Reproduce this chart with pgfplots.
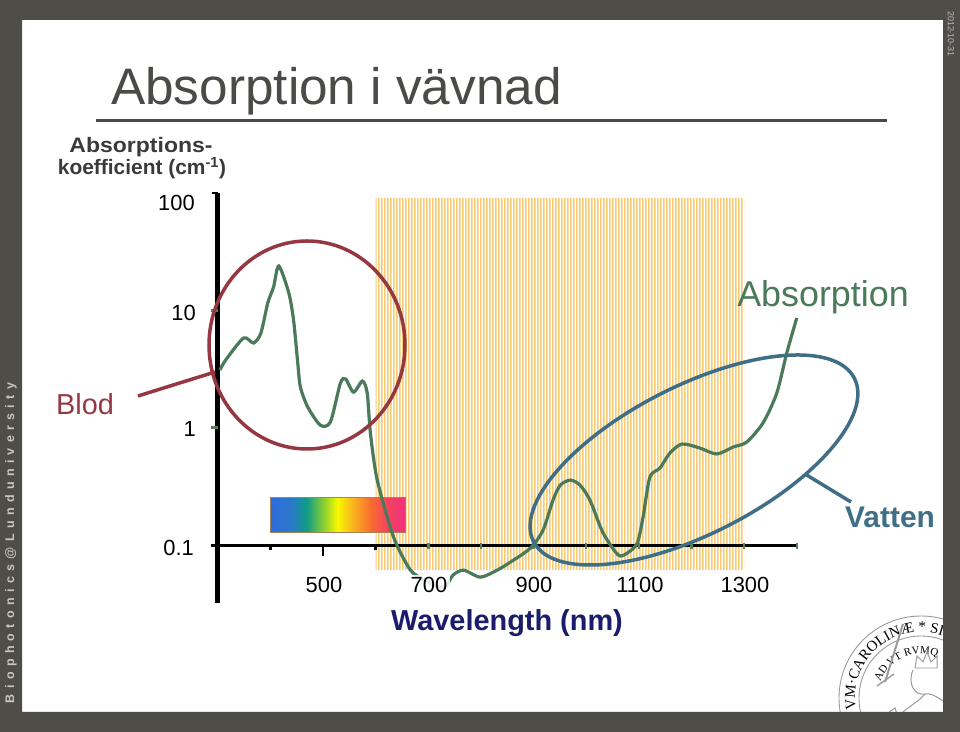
\documentclass[border=0pt]{standalone}
\usepackage{fontspec}
\setmainfont{Liberation Sans}
\newfontfamily\sealfont{Liberation Serif}
\newfontfamily\spaced[LetterSpace=43]{Liberation Sans}
\usepackage{pgfplots}
\pgfplotsset{compat=1.18}
\usetikzlibrary{patterns,decorations.text}

\definecolor{framecol}{HTML}{4E4D48}
\definecolor{titlegray}{HTML}{4A4A46}
\definecolor{curvecol}{HTML}{4B7A5B}
\definecolor{blodred}{HTML}{963842}
\definecolor{vatten}{HTML}{3F6E86}
\definecolor{stripe}{HTML}{F6CB74}
\definecolor{navy}{HTML}{1C1C6C}
\definecolor{ylab}{HTML}{3A3A3A}
\definecolor{tickgreen}{HTML}{5E7E62}
\definecolor{sidetext}{HTML}{CBC7BB}
\definecolor{sealgray}{HTML}{9A9A9A}
\definecolor{sp0}{HTML}{2F6CDB}
\definecolor{sp1}{HTML}{2A78CC}
\definecolor{sp2}{HTML}{0E9C86}
\definecolor{sp3}{HTML}{8CD030}
\definecolor{sp4}{HTML}{F8F800}
\definecolor{sp5}{HTML}{F8B020}
\definecolor{sp6}{HTML}{F86A30}
\definecolor{sp7}{HTML}{F44062}
\definecolor{sp8}{HTML}{F0307E}
\pgfdeclarehorizontalshading{spectrum}{100bp}{color(0bp)=(sp0); color(25bp)=(sp0); color(32.5bp)=(sp1); color(38.5bp)=(sp2); color(45bp)=(sp3); color(50bp)=(sp4); color(56bp)=(sp5); color(62.5bp)=(sp6); color(69bp)=(sp7); color(75bp)=(sp8); color(100bp)=(sp8)}
\pgfdeclarepatternformonly{vstripes}{\pgfpointorigin}{\pgfpoint{3.45bp}{600bp}}{\pgfpoint{3.45bp}{600bp}}{\pgfpathrectangle{\pgfpointorigin}{\pgfpoint{1.8bp}{600bp}}\pgfusepath{fill}}

\pgfplotstableread{
lambda  mua
304 3.10
315 3.77
349 5.81
368 5.27
382 6.41
395 11.55
406 15.8
416 23.9
435 14.05
444 8.27
452 3.56
457 2.22
471 1.50
495 1.05
514 1.12
533 2.40
543 2.60
558 2.01
575 2.50
584 1.97
590 0.90
603 0.358
634 0.117
666 0.0612
694 0.0503
722 0.0438
735 0.0456
747 0.0555
767 0.0612
799 0.0533
831 0.0612
856 0.0716
894 0.0942
918 0.134
937 0.242
951 0.325
970 0.358
988 0.325
1007 0.242
1032 0.127
1061 0.0822
1078 0.0855
1097 0.104
1108 0.173
1121 0.380
1140 0.453
1159 0.608
1182 0.726
1216 0.671
1248 0.597
1279 0.684
1305 0.755
1336 1.10
1362 1.97
1381 4.33
1400 8.61
}\absdata

\begin{document}
\begin{tikzpicture}
\useasboundingbox (0,0) rectangle (960bp,732bp);
% ---------- background, seal, frame ----------
\fill[white] (0,0) rectangle (960bp,732bp);
\begin{scope}
\clip (22bp,20bp) rectangle (943bp,712bp);
\begin{scope}[shift={(921bp,34bp)}, x=1bp, y=1bp, sealgray]
  \draw[line width=0.9] (0,0) circle[radius=82];
  \draw[line width=0.9] (0,0) circle[radius=62];
  \path[decorate, decoration={text along path, text align=left,
      text={|\sealfont\fontsize{15}{15}\selectfont|VM·CAROLINÆ * SIG}}]
      (190:66) arc[start angle=190, end angle=55, radius=66];
  \path[decorate, decoration={text along path, text align=left,
      text={|\sealfont\fontsize{11}{11}\selectfont|AD VT RVMQ}}]
      (158:44) arc[start angle=158, end angle=55, radius=44];
  % sword
  \draw[line width=2] (-36,16) -- (-18,74);
  \draw[line width=1.4] (-44,12) -- (-27,24);
  % crown and lion
  \draw[line width=1] (-6,30) -- (-4,42) -- (2,36) -- (6,46) -- (10,36) -- (16,42) -- (16,30) -- cycle;
  \draw[line width=1] (-8,28) .. controls (-14,14) and (-6,2) .. (4,4)
        .. controls (14,6) and (22,-6) .. (40,-12);
  \draw[line width=1] (-30,-30) .. controls (-20,-10) and (-6,-8) .. (4,4);
  % book
  \draw[line width=1] (-46,-24) -- (-26,-10) -- (-20,-28) -- (-40,-40) -- cycle;
  \draw[line width=0.6] (-43,-27) -- (-25,-15) (-41,-31) -- (-24,-19) (-39,-35) -- (-23,-23);
\end{scope}
\end{scope}
\fill[framecol, even odd rule] (0,0) rectangle (960bp,732bp) (22bp,20bp) rectangle (943bp,712bp);

\begin{scope}[yshift=732bp, x=1bp, y=-1bp]
  \node[rotate=90, font=\spaced\bfseries\fontsize{12.5}{13}\selectfont, text=sidetext, inner sep=0] at (11,543) {Biophotonics@Lunduniversity};
  \node[rotate=-90, font=\fontsize{9}{9}\selectfont, text=gray!55, inner sep=0] at (951,34) {2012-10-31};
  % title
  \node[anchor=base west, inner sep=0, font=\fontsize{51.5}{58}\selectfont, text=titlegray] at (111,105) {Absorption i vävnad};
  \draw[titlegray, line width=3bp] (96,121) -- (887,121);
  % y label
  \node[anchor=base, inner sep=0, font=\bfseries\fontsize{21}{24}\selectfont, text=ylab] at (141,153) {\scalebox{1.1}[1]{Absorptions-}};
  \node[anchor=base, inner sep=0, font=\bfseries\fontsize{21}{24}\selectfont, text=ylab] at (142,175) {koefficient (cm\textsuperscript{-1})};
\end{scope}

% ---------- the chart ----------
\begin{axis}[
  at={(217.75bp,129bp)}, anchor=south west,
  scale only axis, width=579bp, height=410bp,
  xmin=300, xmax=1400,
  ymode=log, ymin=0.0321, ymax=100,
  hide axis, clip=false,
]
  % NIR window (striped region)
  \addplot[draw=none, pattern=vstripes, pattern color=stripe]
    coordinates {(600,0.0624) (600,90) (1300,90) (1300,0.0624)} -- cycle;
  % visible spectrum bar
  \shade[shading=spectrum, draw=brown!60!gray, line width=0.8bp] (axis cs:399.3,0.2565) rectangle (axis cs:655.7,0.129);
  % axes
  \draw[black, line width=5bp] (axis cs:300,100) -- (axis cs:300,0.0321);
  \draw[black, line width=2.5bp] (axis cs:300,100) -- ++(-6bp,0bp);
  \draw[black, line width=3bp] (axis cs:300,0.1) ++(-7bp,0bp) -- (axis cs:1400,0.1);
  \draw[tickgreen, line width=2.5bp] (axis cs:300,10) -- ++(-7bp,0bp);
  \draw[tickgreen, line width=2.5bp] (axis cs:300,1) -- ++(-7bp,0bp);
  \draw[black, line width=2.5bp] (axis cs:400,0.1) -- ++(0bp,-5bp);
  \draw[black, line width=2.5bp] (axis cs:500,0.1) -- ++(0bp,-11bp);
  \draw[black, line width=2.5bp] (axis cs:600,0.1) -- ++(0bp,-5bp);
  \pgfplotsinvokeforeach{700,800,900,1000,1100,1200,1300,1400}{
    \draw[tickgreen, line width=2.5bp] (axis cs:#1,0.1) ++(0bp,2.5bp) -- ++(0bp,-6bp);
  }
  % absorption curve
  \addplot[curvecol, line width=3.2bp, smooth, tension=0.45] table[x=lambda, y=mua] {\absdata};
\end{axis}

% ---------- overlays ----------
\begin{scope}[yshift=732bp, x=1bp, y=-1bp]
  \node[anchor=east, inner sep=0, font=\fontsize{22}{24}\selectfont] at (195,203) {100};
  \node[anchor=east, inner sep=0, font=\fontsize{22}{24}\selectfont] at (196,313) {10};
  \node[anchor=east, inner sep=0, font=\fontsize{22}{24}\selectfont] at (196,429) {1};
  \node[anchor=east, inner sep=0, font=\fontsize{22}{24}\selectfont] at (194,548) {0.1};
  \node[anchor=base, inner sep=0, font=\fontsize{22}{24}\selectfont] at (324,593) {500};
  \node[anchor=base, inner sep=3bp, fill=white, fill opacity=0.85, text opacity=1, font=\fontsize{22}{24}\selectfont] at (429,593) {700};
  \node[anchor=base, inner sep=0, font=\fontsize{22}{24}\selectfont] at (534,593) {900};
  \node[anchor=base, inner sep=0, font=\fontsize{22}{24}\selectfont] at (640,593) {1100};
  \node[anchor=base, inner sep=0, font=\fontsize{22}{24}\selectfont] at (745,593) {1300};
  \node[anchor=base, inner sep=0, font=\bfseries\fontsize{29}{32}\selectfont, text=navy] at (507,631) {Wavelength (nm)};
  % Blod
  \draw[blodred, line width=3.5bp] (307,345) ellipse [x radius=98, y radius=104];
  \draw[blodred, line width=3.5bp] (138,396) -- (215,372);
  \node[anchor=base west, inner sep=0, font=\fontsize{29}{32}\selectfont, text=blodred] at (56,415) {Blod};
  % Vatten
  \draw[vatten, line width=3.5bp, rotate around={27:(694,460)}] (694,460) ellipse [x radius=180, y radius=74];
  \draw[vatten, line width=3.5bp] (805,474) -- (851,502);
  \node[anchor=base west, inner sep=0, font=\bfseries\fontsize{30}{32}\selectfont, text=vatten] at (845,528) {Vatten};
  % Absorption label
  \node[anchor=base, inner sep=0, font=\fontsize{36}{40}\selectfont, text=curvecol] at (823,307) {Absorption};
\end{scope}
\end{tikzpicture}
\end{document}
